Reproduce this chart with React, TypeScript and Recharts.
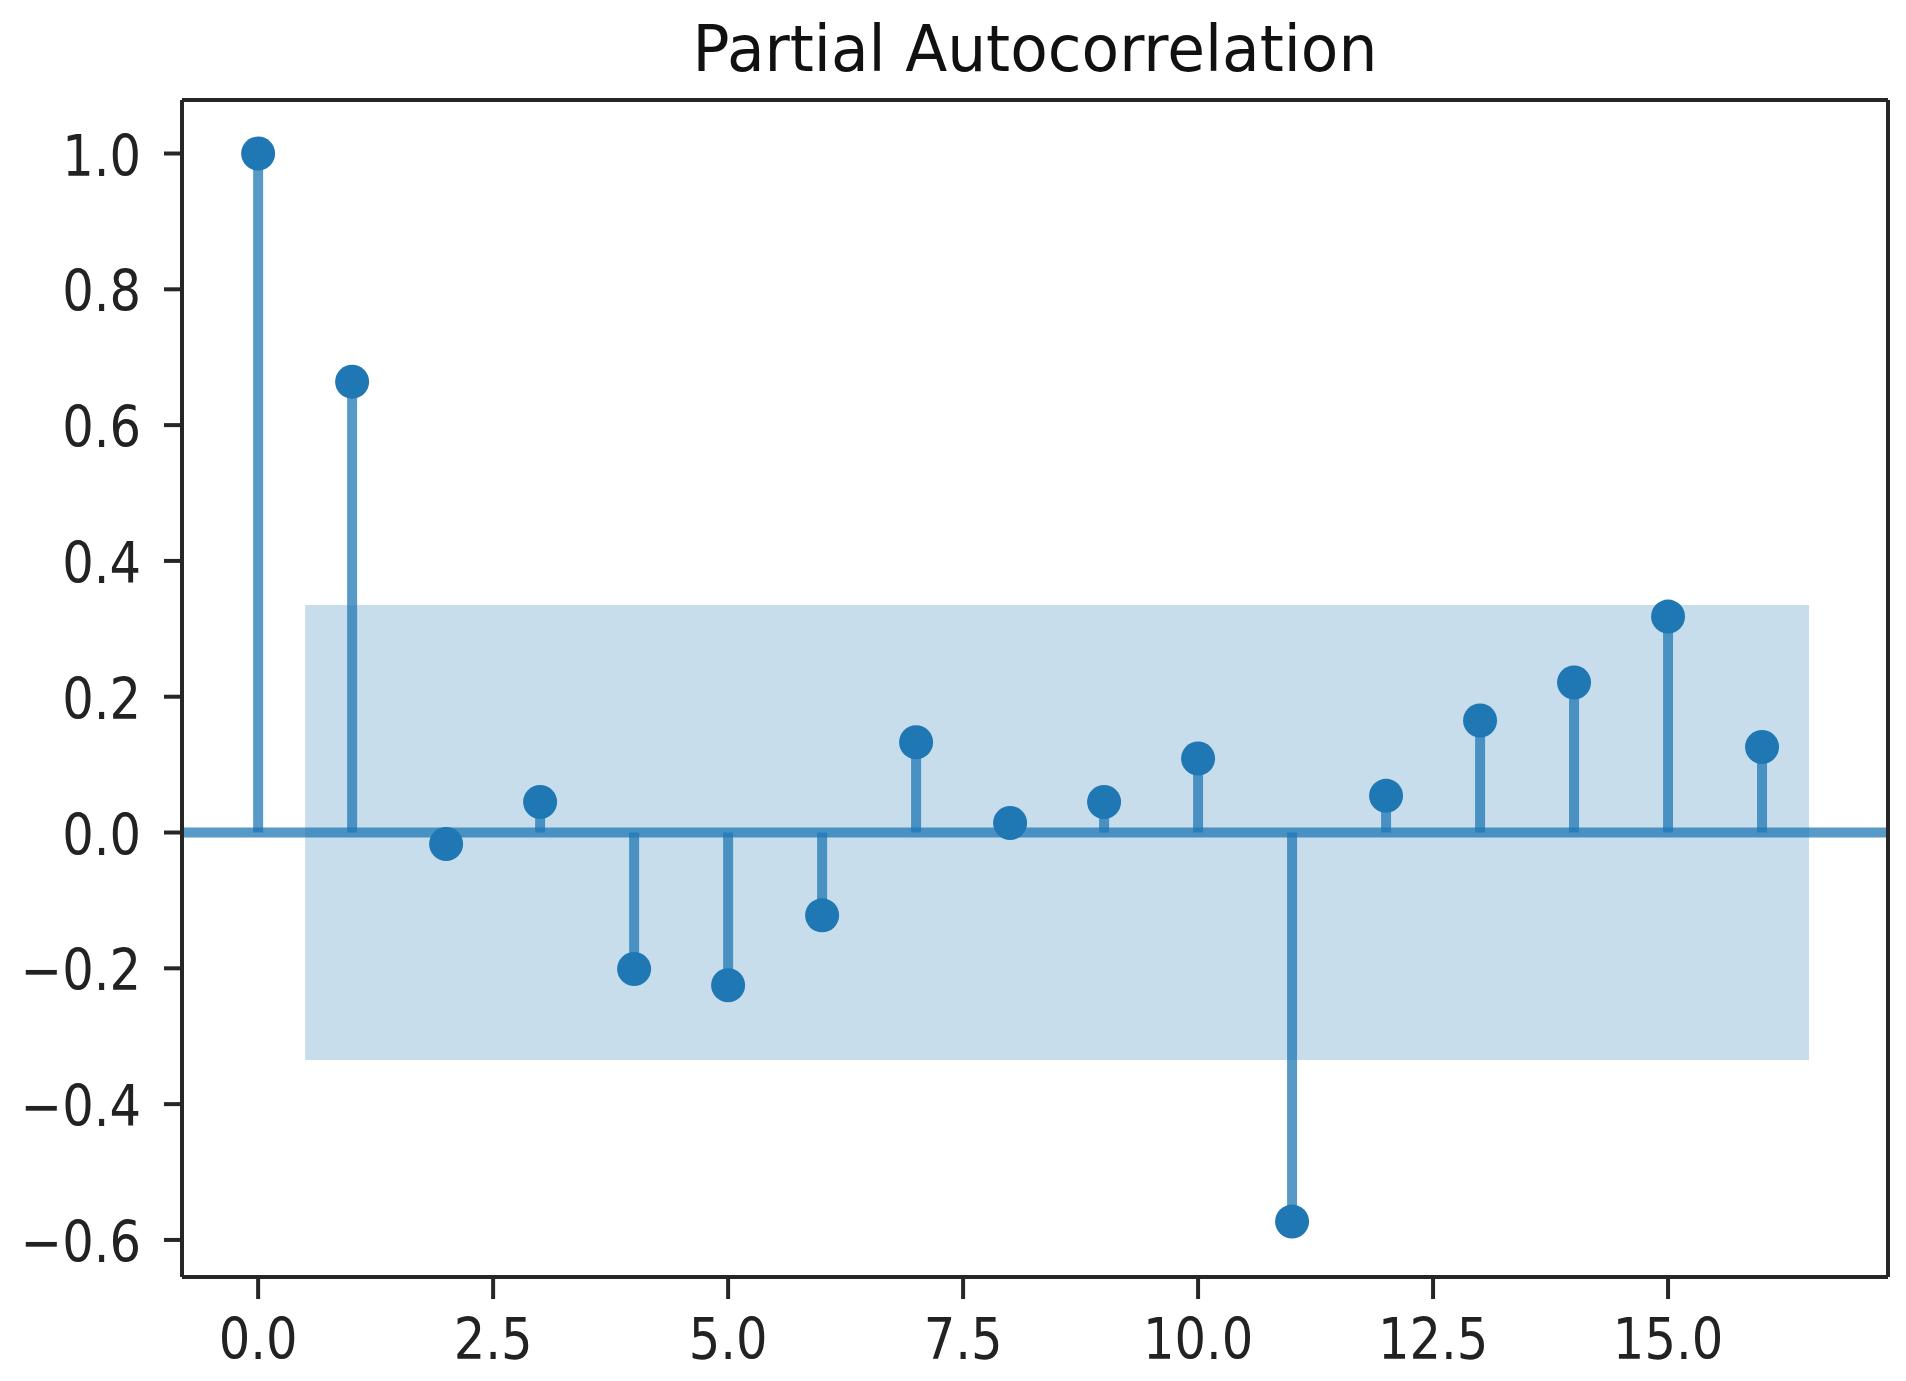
import React from "react";
import {
  ComposedChart,
  Bar,
  Scatter,
  XAxis,
  YAxis,
  ReferenceArea,
  ReferenceLine,
} from "recharts";

const lags = [0, 1, 2, 3, 4, 5, 6, 7, 8, 9, 10, 11, 12, 13, 14, 15, 16];
const pacfValues = [
  1.0, 0.664, -0.017, 0.045, -0.201, -0.225, -0.122, 0.133, 0.014, 0.045,
  0.109, -0.573, 0.054, 0.165, 0.221, 0.318, 0.126,
];
const confBound = 0.335;
const bandStart = 0.5;
const bandEnd = 16.5;
const xTicks = [0, 2.5, 5, 7.5, 10, 12.5, 15];
const yTicks = [-0.6, -0.4, -0.2, 0, 0.2, 0.4, 0.6, 0.8, 1.0];
const xDomain = [-0.81, 17.34];
const yDomain = [-0.6546, 1.0788];
const title = "Partial Autocorrelation";

const data = lags.map((lag, i) => ({ lag, value: pacfValues[i] }));

const BLUE = "#1f77b4";
const SPINE = "#262626";
const FONT = "'DejaVu Sans', sans-serif";

const fmt = (v: number) => {
  const s = Math.abs(v).toFixed(1);
  return v < 0 ? "\u2212" + s : s;
};

const YTick = (props: any) => {
  const { x, y, payload } = props;
  return (
    <g transform={`translate(${x},${y}) scale(0.87,1)`}>
      <text
        x={0}
        y={22}
        textAnchor="end"
        fontSize={57}
        fontFamily={FONT}
        fill="#222"
      >
        {fmt(payload.value)}
      </text>
    </g>
  );
};

const XTick = (props: any) => {
  const { x, y, payload } = props;
  return (
    <g transform={`translate(${x},${y}) scale(0.87,1)`}>
      <text
        x={0}
        y={60}
        textAnchor="middle"
        fontSize={57}
        fontFamily={FONT}
        fill="#222"
      >
        {fmt(payload.value)}
      </text>
    </g>
  );
};

const Marker = (props: any) => {
  const { cx, cy } = props;
  if (cx == null || cy == null) return null;
  return <circle cx={cx} cy={cy} r={17} fill={BLUE} />;
};

export default function App() {
  return (
    <div
      style={{
        position: "absolute",
        left: 0,
        top: 0,
        width: 1906,
        height: 1381,
        background: "#fff",
      }}
    >
      <svg
        width={1906}
        height={100}
        style={{ position: "absolute", left: 0, top: 0 }}
      >
        <g transform="translate(1035,71) scale(0.96,1)">
          <text
            x={0}
            y={0}
            textAnchor="middle"
            fontSize={64}
            fontFamily={FONT}
            fill="#111"
          >
            {title}
          </text>
        </g>
      </svg>
      <div style={{ position: "absolute", left: 0, top: 0 }}>
        <ComposedChart
          width={1906}
          height={1381}
          data={data}
          margin={{ top: 100, right: 18, bottom: 14, left: 12 }}
        >
          <XAxis
            dataKey="lag"
            type="number"
            domain={xDomain}
            allowDataOverflow
            ticks={xTicks}
            interval={0}
            tick={<XTick />}
            tickSize={22}
            tickMargin={0}
            height={90}
            axisLine={{ stroke: SPINE, strokeWidth: 4 }}
            tickLine={{ stroke: SPINE, strokeWidth: 4 }}
          />
          <YAxis
            type="number"
            domain={yDomain}
            allowDataOverflow
            ticks={yTicks}
            interval={0}
            tick={<YTick />}
            tickSize={18}
            tickMargin={23}
            width={170}
            axisLine={{ stroke: SPINE, strokeWidth: 4 }}
            tickLine={{ stroke: SPINE, strokeWidth: 4 }}
          />
          <ReferenceArea
            x1={bandStart}
            x2={bandEnd}
            y1={-confBound}
            y2={confBound}
            fill={BLUE}
            fillOpacity={0.25}
            stroke="none"
            ifOverflow="visible"
          />
          <Bar
            dataKey="value"
            barSize={10}
            fill={BLUE}
            fillOpacity={0.75}
            isAnimationActive={false}
          />
          <ReferenceLine
            y={0}
            stroke={BLUE}
            strokeOpacity={0.75}
            strokeWidth={10}
          />
          <Scatter
            dataKey="value"
            shape={<Marker />}
            isAnimationActive={false}
          />
          <ReferenceLine
            y={yDomain[1]}
            stroke={SPINE}
            strokeWidth={4}
            ifOverflow="visible"
          />
          <ReferenceLine
            x={xDomain[1]}
            stroke={SPINE}
            strokeWidth={4}
            ifOverflow="visible"
          />
        </ComposedChart>
      </div>
    </div>
  );
}
